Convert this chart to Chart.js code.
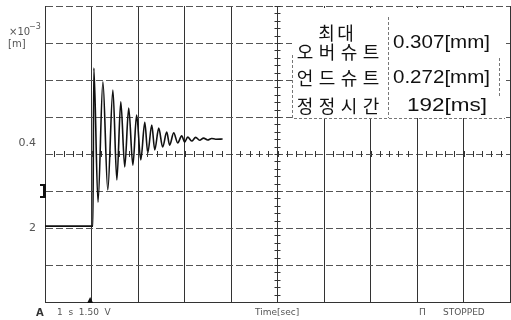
<!DOCTYPE html>
<html><head><meta charset="utf-8">
<script src="https://cdn.jsdelivr.net/npm/chart.js@4/dist/chart.umd.min.js"></script>
<style>html,body{margin:0;padding:0;background:#fff;}canvas{display:block;}</style>
</head><body>
<canvas id="c" width="511" height="320"></canvas>
<script>
// Time axis in divisions (10 div), displacement in mm (0.1 mm/div)
const timeSec = [0, 1.03, 1.05, 1.14, 1.245, 1.35, 1.46, 1.545, 1.63, 1.715, 1.80, 1.89, 1.97, 2.06, 2.146, 2.21, 2.296, 2.36, 2.446, 2.53, 2.618, 2.68, 2.768, 2.854, 2.94, 3.004, 3.069, 3.155, 3.24, 3.326, 3.41, 3.498, 3.584, 3.67, 3.82];
const dispMm  = [0.205, 0.205, 0.632, 0.270, 0.595, 0.303, 0.573, 0.330, 0.541, 0.365, 0.524, 0.370, 0.505, 0.384, 0.486, 0.403, 0.478, 0.411, 0.470, 0.419, 0.459, 0.424, 0.457, 0.430, 0.449, 0.432, 0.446, 0.435, 0.445, 0.437, 0.443, 0.438, 0.442, 0.440, 0.4405];
const yTickValues = [0.4, 0.2];
const yTickLabels = ['0.4', '2'];
const triggerTime = 0.97;
const ch1Level = 0.3;
const tableLabels = ['최대', '오버슈트', '언드슈트', '정정시간'];
const tableValues = ['0.307[mm]', '0.272[mm]', '192[ms]'];
const bottomLeft = '1  s  1.50  V';
const xTitle = 'Time[sec]';
const statusText = 'STOPPED';

const overlay = {
  id: 'overlay',
  afterDraw(chart) {
    const ctx = chart.ctx, xs = chart.scales.x, ys = chart.scales.y, a = chart.chartArea;
    ctx.save();
    // center graticule ticks
    ctx.strokeStyle = '#333'; ctx.lineWidth = 1;
    const cx = xs.getPixelForValue(5), cy = ys.getPixelForValue(0.4);
    for (let v = 0; v <= 10.001; v += 0.2) {
      const px = Math.round(xs.getPixelForValue(v)) + 0.5;
      ctx.beginPath(); ctx.moveTo(px, cy - 3); ctx.lineTo(px, cy + 3); ctx.stroke();
    }
    for (let v = 0; v <= 0.8001; v += 0.02) {
      const py = Math.round(ys.getPixelForValue(v)) + 0.5;
      ctx.beginPath(); ctx.moveTo(cx - 3, py); ctx.lineTo(cx + 3, py); ctx.stroke();
    }
    // table
    ctx.fillStyle = '#fff';
    ctx.fillRect(292, 8, 213, 110);
    ctx.strokeStyle = '#777'; ctx.setLineDash([3, 2]);
    ctx.beginPath();
    ctx.moveTo(292.5, 55); ctx.lineTo(292.5, 118.5); ctx.lineTo(505, 118.5);
    ctx.moveTo(388.5, 17); ctx.lineTo(388.5, 118);
    ctx.moveTo(499.5, 58); ctx.lineTo(499.5, 98);
    ctx.stroke();
    ctx.setLineDash([]);
    ctx.fillStyle = '#111';
    ctx.textBaseline = 'middle'; ctx.textAlign = 'center';
    ctx.font = '18px "Noto Sans CJK KR"';
    const drawSpaced = (txt, left, step, y) => {
      [...txt].forEach((ch, i) => ctx.fillText(ch, left + step * i + step / 2, y));
    };
    drawSpaced(tableLabels[0], 317, 19, 33);
    drawSpaced(tableLabels[1], 294, 22, 52);
    drawSpaced(tableLabels[2], 294, 22, 78);
    drawSpaced(tableLabels[3], 294, 22, 106);
    ctx.font = '19px "Liberation Sans"';
    const fitText = (txt, left, width, y) => {
      const w = ctx.measureText(txt).width;
      ctx.save(); ctx.translate(left, y); ctx.scale(width / w, 1);
      ctx.textAlign = 'left'; ctx.fillText(txt, 0, 0); ctx.restore();
    };
    fitText(tableValues[0], 393, 97, 43);
    fitText(tableValues[1], 393, 97, 78);
    fitText(tableValues[2], 407, 80, 106);
    // left labels
    ctx.fillStyle = '#555';
    ctx.font = '11px "DejaVu Sans"'; ctx.textAlign = 'right';
    yTickValues.forEach((v, i) => {
      ctx.fillText(yTickLabels[i], 36, ys.getPixelForValue(v) - (i === 0 ? 11 : 0));
    });
    ctx.textAlign = 'left';
    ctx.font = '10px "DejaVu Sans"';
    ctx.fillText('×10', 9, 32);
    ctx.font = '8px "DejaVu Sans"';
    ctx.fillText('−3', 29, 27);
    ctx.font = '10px "DejaVu Sans"';
    ctx.fillText('[m]', 8, 44);
    // channel marker
    const my = ys.getPixelForValue(ch1Level);
    ctx.fillStyle = '#111';
    ctx.fillRect(43, my - 7, 3, 14);
    ctx.fillRect(40, my - 7, 4, 2);
    ctx.fillRect(40, my + 5, 4, 2);
    // trigger marker
    const tx = xs.getPixelForValue(triggerTime);
    ctx.beginPath(); ctx.moveTo(tx, a.bottom - 5); ctx.lineTo(tx - 3, a.bottom + 1); ctx.lineTo(tx + 3, a.bottom + 1); ctx.closePath(); ctx.fill();
    // bottom texts
    ctx.fillStyle = '#333';
    ctx.font = 'bold 10px "DejaVu Sans"';
    ctx.fillText('A', 36, 313);
    ctx.font = '9px "DejaVu Sans"';
    ctx.fillStyle = '#555';
    ctx.fillText(bottomLeft, 57, 313);
    ctx.fillText(xTitle, 255, 313);
    ctx.fillText('П', 419, 313);
    ctx.fillText(statusText, 443, 313);
    ctx.restore();
  }
};

new Chart(document.getElementById('c'), {
  type: 'line',
  data: {
    datasets: [{
      data: timeSec.map((t, i) => ({ x: t, y: dispMm[i] })),
      borderColor: '#111', borderWidth: 1.6, pointRadius: 0,
      cubicInterpolationMode: 'monotone', fill: false
    }]
  },
  options: {
    responsive: false, animation: false, devicePixelRatio: 1,
    layout: { padding: { left: 45, right: 1, top: 6, bottom: 18 } },
    plugins: { legend: { display: false }, tooltip: { enabled: false } },
    scales: {
      x: { type: 'linear', min: 0, max: 10,
        ticks: { display: false, stepSize: 1 },
        grid: { color: '#333', drawTicks: false, lineWidth: 1 },
        border: { display: true, color: '#333' } },
      y: { min: 0, max: 0.8,
        ticks: { display: false, stepSize: 0.1 },
        grid: { color: '#555', drawTicks: false, lineWidth: 1 },
        border: { display: true, color: '#333', dash: [7, 3] } }
    }
  },
  plugins: [overlay]
});
</script>
</body></html>
